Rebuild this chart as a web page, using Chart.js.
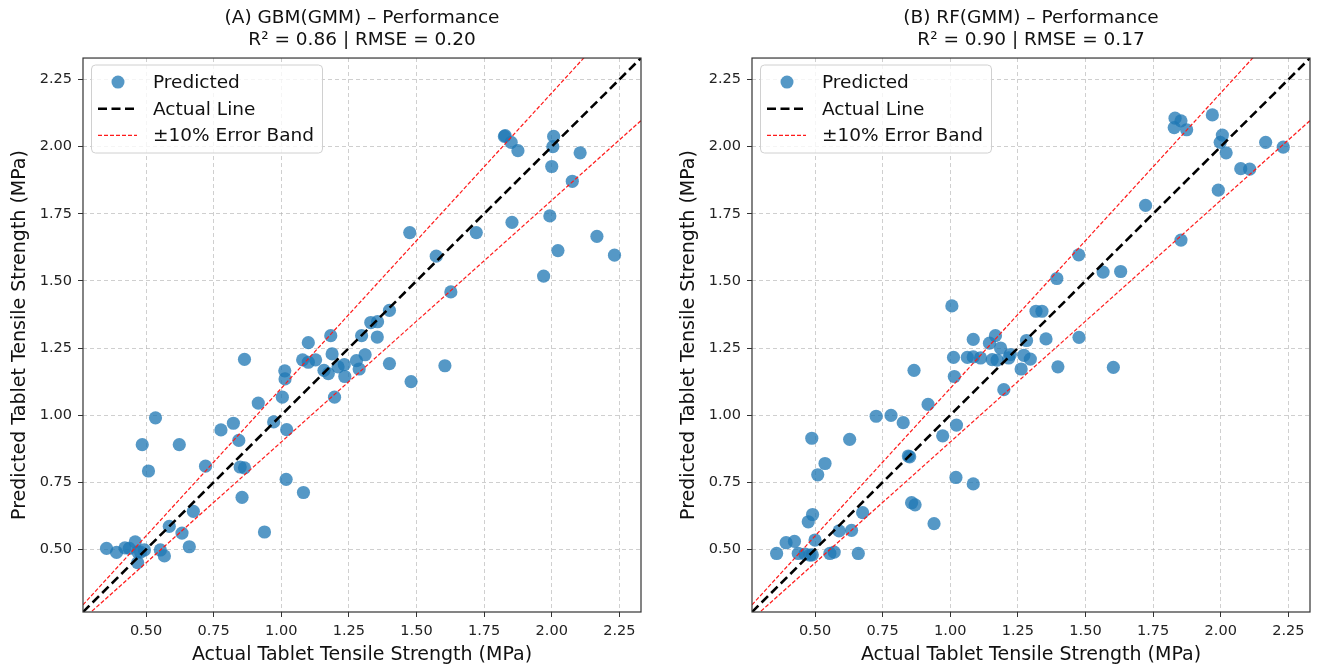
<!DOCTYPE html>
<html>
<head>
<meta charset="utf-8">
<script src="https://cdn.jsdelivr.net/npm/chart.js@4.4.1/dist/chart.umd.min.js"></script>
<style>
  html, body { margin: 0; padding: 0; background: #fff; overflow: hidden; }
  .box { position: absolute; top: 0; width: 648px; height: 666px; }
</style>
</head>
<body>
<div class="box" style="left:0px"><canvas id="chartA" width="648" height="666"></canvas></div>
<div class="box" style="left:669px"><canvas id="chartB" width="648" height="666"></canvas></div>
<script>
// axis limits and ticks (shared by both panels)
const axisMin = 0.267;
const axisMax = 2.33;
const tickValues = [0.50, 0.75, 1.00, 1.25, 1.50, 1.75, 2.00, 2.25];

// (A) GBM(GMM): actual vs predicted
const gbmActual = [0.354, 0.391, 0.422, 0.438, 0.460, 0.469, 0.494, 0.469, 0.553, 0.568, 0.480,
  0.535, 0.486, 0.509, 0.623, 0.586, 0.633, 0.660, 0.675, 0.720, 0.777, 0.823, 0.843, 0.848, 0.864,
  0.855, 0.864, 0.915, 0.938, 0.972, 1.004, 1.013, 1.014, 1.020, 1.018, 1.082, 1.100, 1.079, 1.100,
  1.127, 1.158, 1.174, 1.188, 1.183, 1.197, 1.210, 1.233, 1.235, 1.278, 1.288, 1.310, 1.297, 1.331,
  1.356, 1.355, 1.400, 1.400, 1.480, 1.475, 1.573, 1.605, 1.627, 1.721, 1.828, 1.825, 1.850, 1.875,
  1.853, 1.970, 1.993, 2.000, 2.004, 2.007, 2.023, 2.076, 2.105, 2.167, 2.232];
const gbmPredicted = [0.504, 0.489, 0.506, 0.504, 0.528, 0.491, 0.498, 0.451, 0.498, 0.476, 0.490,
  0.990, 0.890, 0.792, 0.890, 0.586, 0.561, 0.510, 0.642, 0.810, 0.945, 0.970, 0.906, 0.807, 0.804,
  0.694, 1.208, 1.045, 0.565, 0.975, 1.067, 1.165, 1.135, 0.946, 0.761, 0.712, 1.270, 1.206, 1.197,
  1.206, 1.167, 1.155, 1.228, 1.296, 1.067, 1.180, 1.188, 1.144, 1.203, 1.172, 1.225, 1.296, 1.345,
  1.348, 1.291, 1.390, 1.192, 1.125, 1.680, 1.592, 1.184, 1.459, 1.680, 2.041, 2.038, 2.016, 1.985,
  1.718, 1.518, 1.742, 1.926, 2.000, 2.038, 1.613, 1.871, 1.977, 1.666, 1.596];

// (B) RF(GMM): actual vs predicted
const rfActual = [0.358, 0.393, 0.424, 0.438, 0.463, 0.481, 0.490, 0.500, 0.475, 0.491, 0.488,
  0.510, 0.537, 0.555, 0.571, 0.589, 0.635, 0.660, 0.676, 0.628, 0.726, 0.781, 0.826, 0.845, 0.850,
  0.866, 0.857, 0.870, 0.918, 0.940, 0.972, 1.006, 1.012, 1.015, 1.023, 1.021, 1.085, 1.085, 1.063,
  1.085, 1.112, 1.145, 1.167, 1.186, 1.155, 1.173, 1.198, 1.216, 1.222, 1.262, 1.272, 1.296, 1.282,
  1.317, 1.339, 1.354, 1.394, 1.398, 1.476, 1.475, 1.565, 1.630, 1.603, 1.722, 1.831, 1.853, 1.828,
  1.874, 1.853, 1.969, 2.006, 1.998, 2.020, 1.991, 2.074, 2.107, 2.166, 2.231];
const rfPredicted = [0.485, 0.525, 0.530, 0.485, 0.483, 0.479, 0.480, 0.535, 0.603, 0.630, 0.914,
  0.778, 0.820, 0.485, 0.490, 0.569, 0.571, 0.485, 0.637, 0.910, 0.996, 0.999, 0.972, 0.848, 0.845,
  1.167, 0.674, 0.666, 1.040, 0.596, 0.923, 1.407, 1.215, 1.144, 0.963, 0.768, 0.744, 1.282, 1.215,
  1.217, 1.213, 1.268, 1.296, 1.250, 1.207, 1.205, 1.095, 1.213, 1.226, 1.172, 1.223, 1.209, 1.278,
  1.387, 1.387, 1.284, 1.509, 1.180, 1.290, 1.597, 1.533, 1.535, 1.178, 1.781, 2.106, 2.096, 2.071,
  2.063, 1.652, 2.118, 2.043, 2.016, 1.977, 1.838, 1.918, 1.916, 2.016, 1.998];

const FONT = "'DejaVu Sans', sans-serif";

// spines on all four sides like matplotlib
const framePlugin = {
  id: 'frame',
  afterDatasetsDraw(chart) {
    const a = chart.chartArea, ctx = chart.ctx;
    ctx.save();
    ctx.strokeStyle = '#333';
    ctx.lineWidth = 1.2;
    ctx.strokeRect(a.left, a.top, a.right - a.left, a.bottom - a.top);
    ctx.restore();
  }
};

// legend box drawn inside the upper-left of the plot
const legendBoxPlugin = {
  id: 'legendBox',
  afterDraw(chart) {
    const a = chart.chartArea, ctx = chart.ctx;
    const ds = chart.data.datasets;
    const x0 = a.left + 8.5, y0 = a.top + 7;
    ctx.save();
    ctx.beginPath();
    ctx.roundRect(x0, y0, 231, 88, 4);
    ctx.fillStyle = 'rgba(255,255,255,0.8)';
    ctx.fill();
    ctx.strokeStyle = '#d0d0d0';
    ctx.lineWidth = 1;
    ctx.stroke();

    const rows = [ds[3], ds[0], ds[1]];
    rows.forEach((d, i) => {
      const y = a.top + 24 + i * 26.7;
      if (d.type === 'scatter') {
        ctx.beginPath();
        ctx.arc(a.left + 35, y, 6.5, 0, Math.PI * 2);
        ctx.fillStyle = d.backgroundColor;
        ctx.fill();
      } else {
        ctx.beginPath();
        ctx.setLineDash(d.borderDash);
        ctx.strokeStyle = d.borderColor;
        ctx.lineWidth = d.borderWidth;
        ctx.moveTo(a.left + 15, y);
        ctx.lineTo(a.left + 54, y);
        ctx.stroke();
        ctx.setLineDash([]);
      }
      ctx.fillStyle = '#111';
      ctx.font = '18.5px ' + FONT;
      ctx.textBaseline = 'middle';
      ctx.fillText(d.label, a.left + 70, y + 1);
    });
    ctx.restore();
  }
};

function axisOptions(titleText, horizontal) {
  return {
    type: 'linear',
    min: axisMin,
    max: axisMax,
    afterBuildTicks: (axis) => { axis.ticks = tickValues.map(v => ({ value: v })); },
    afterFit: (axis) => {
      if (horizontal) axis.height = 54; else axis.width = 83;
    },
    ticks: {
      color: '#222',
      font: { family: FONT, size: 14.5 },
      padding: 6,
      callback: (v) => Number(v).toFixed(2)
    },
    grid: {
      color: 'rgba(175,175,175,0.6)',
      lineWidth: 1,
      tickColor: '#333',
      tickLength: 5,
      tickWidth: 1,
      tickBorderDash: []
    },
    border: { display: false, dash: [4, 3] },
    title: {
      display: true,
      text: titleText,
      color: '#111',
      font: { family: FONT, size: 19, lineHeight: 1.2 },
      padding: horizontal ? { top: 0, bottom: 0 } : { top: 8.5, bottom: 0 }
    }
  };
}

function makeChart(id, titleLines, actual, predicted) {
  const points = actual.map((x, i) => ({ x: x, y: predicted[i] }));
  const ends = [axisMin, axisMax];
  new Chart(document.getElementById(id), {
    type: 'scatter',
    data: {
      datasets: [
        {
          type: 'line',
          label: 'Actual Line',
          data: ends.map(v => ({ x: v, y: v })),
          borderColor: '#000',
          borderWidth: 2.6,
          borderDash: [9, 4.5],
          pointRadius: 0
        },
        {
          type: 'line',
          label: '\u00b110% Error Band',
          data: ends.map(v => ({ x: v, y: v * 1.1 })),
          borderColor: '#ff1a1a',
          borderWidth: 1.2,
          borderDash: [4, 2],
          pointRadius: 0
        },
        {
          type: 'line',
          label: '\u00b110% Error Band (lower)',
          data: ends.map(v => ({ x: v, y: v * 0.9 })),
          borderColor: '#ff1a1a',
          borderWidth: 1.2,
          borderDash: [4, 2],
          pointRadius: 0
        },
        {
          type: 'scatter',
          label: 'Predicted',
          data: points,
          backgroundColor: 'rgba(31,119,180,0.76)',
          borderWidth: 0,
          pointRadius: 6.6,
          pointHoverRadius: 6.6
        }
      ]
    },
    options: {
      responsive: false,
      animation: false,
      layout: { padding: { top: 7, right: 7, left: 0, bottom: 0 } },
      plugins: {
        legend: { display: false },
        tooltip: { enabled: false },
        title: {
          display: true,
          text: titleLines,
          color: '#111',
          fullSize: false,
          font: { family: FONT, size: 18.5, weight: 'normal', lineHeight: 1.19 },
          padding: { top: 0, bottom: 7 }
        }
      },
      scales: {
        x: axisOptions('Actual Tablet Tensile Strength (MPa)', true),
        y: axisOptions('Predicted Tablet Tensile Strength (MPa)', false)
      }
    },
    plugins: [framePlugin, legendBoxPlugin]
  });
}

makeChart('chartA', ['(A) GBM(GMM) \u2013 Performance', 'R\u00b2 = 0.86 | RMSE = 0.20'], gbmActual, gbmPredicted);
makeChart('chartB', ['(B) RF(GMM) \u2013 Performance', 'R\u00b2 = 0.90 | RMSE = 0.17'], rfActual, rfPredicted);
</script>
</body>
</html>
